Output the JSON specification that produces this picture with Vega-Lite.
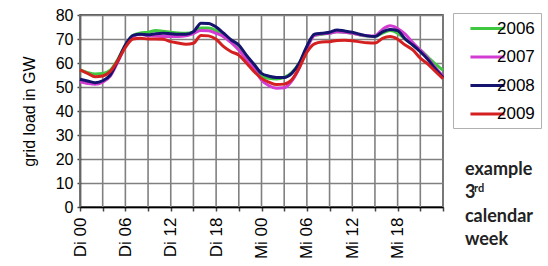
{
  "$schema": "https://vega.github.io/schema/vega-lite/v6.json",
  "width": 363,
  "height": 192,
  "autosize": "none",
  "padding": {"left": 80, "top": 15, "right": 105, "bottom": 59},
  "background": "white",
  "config": {
    "font": "Liberation Sans",
    "view": {"stroke": "#222222", "strokeWidth": 1.5}
  },
  "resolve": {"axis": {"x": "independent", "y": "independent"}},
  "data": {"values": [
    {"h":0,"2006":57.1,"2007":52.2,"2008":53.2,"2009":57.1},
    {"h":1,"2006":56.0,"2007":51.5,"2008":52.5,"2009":55.7},
    {"h":2,"2006":55.4,"2007":51.1,"2008":51.8,"2009":54.3},
    {"h":3,"2006":55.6,"2007":52.0,"2008":52.6,"2009":54.6},
    {"h":4,"2006":57.0,"2007":54.5,"2008":55.0,"2009":56.5},
    {"h":5,"2006":61.5,"2007":60.5,"2008":61.0,"2009":61.0},
    {"h":6,"2006":67.5,"2007":67.0,"2008":67.5,"2009":66.5},
    {"h":7,"2006":71.5,"2007":71.0,"2008":71.5,"2009":70.0},
    {"h":8,"2006":72.5,"2007":72.0,"2008":72.0,"2009":70.3},
    {"h":9,"2006":72.8,"2007":71.4,"2008":71.8,"2009":70.0},
    {"h":10,"2006":73.5,"2007":71.3,"2008":72.2,"2009":70.0},
    {"h":11,"2006":73.2,"2007":71.0,"2008":72.4,"2009":69.9},
    {"h":12,"2006":72.8,"2007":71.0,"2008":72.2,"2009":68.9},
    {"h":13,"2006":72.5,"2007":71.0,"2008":72.0,"2009":68.3},
    {"h":14,"2006":72.4,"2007":71.3,"2008":72.0,"2009":67.8},
    {"h":15,"2006":73.0,"2007":72.3,"2008":73.0,"2009":68.2},
    {"h":16,"2006":74.6,"2007":73.5,"2008":76.6,"2009":71.5},
    {"h":17,"2006":74.6,"2007":73.4,"2008":76.5,"2009":71.3},
    {"h":18,"2006":73.5,"2007":72.4,"2008":75.0,"2009":69.9},
    {"h":19,"2006":71.0,"2007":71.0,"2008":72.4,"2009":66.8},
    {"h":20,"2006":68.9,"2007":68.5,"2008":69.6,"2009":64.7},
    {"h":21,"2006":66.5,"2007":65.4,"2008":67.5,"2009":63.3},
    {"h":22,"2006":62.5,"2007":61.5,"2008":63.3,"2009":60.0},
    {"h":23,"2006":58.5,"2007":57.8,"2008":59.5,"2009":56.5},
    {"h":24,"2006":54.6,"2007":52.9,"2008":55.7,"2009":53.6},
    {"h":25,"2006":53.6,"2007":50.5,"2008":54.5,"2009":52.0},
    {"h":26,"2006":53.3,"2007":49.5,"2008":54.0,"2009":51.0},
    {"h":27,"2006":54.0,"2007":49.7,"2008":54.0,"2009":51.2},
    {"h":28,"2006":56.0,"2007":52.5,"2008":55.7,"2009":53.0},
    {"h":29,"2006":60.0,"2007":58.0,"2008":60.0,"2009":58.0},
    {"h":30,"2006":66.5,"2007":66.0,"2008":67.0,"2009":64.5},
    {"h":31,"2006":71.5,"2007":71.5,"2008":72.0,"2009":68.0},
    {"h":32,"2006":72.0,"2007":72.2,"2008":72.4,"2009":68.8},
    {"h":33,"2006":72.4,"2007":72.4,"2008":72.8,"2009":68.9},
    {"h":34,"2006":73.0,"2007":73.0,"2008":73.8,"2009":69.4},
    {"h":35,"2006":72.8,"2007":72.8,"2008":73.3,"2009":69.5},
    {"h":36,"2006":72.4,"2007":72.4,"2008":72.8,"2009":69.3},
    {"h":37,"2006":71.7,"2007":71.8,"2008":72.0,"2009":68.8},
    {"h":38,"2006":71.2,"2007":71.4,"2008":71.3,"2009":68.4},
    {"h":39,"2006":71.0,"2007":71.3,"2008":71.0,"2009":68.3},
    {"h":40,"2006":72.5,"2007":74.0,"2008":73.0,"2009":70.3},
    {"h":41,"2006":73.5,"2007":75.5,"2008":74.0,"2009":71.0},
    {"h":42,"2006":72.4,"2007":74.4,"2008":73.5,"2009":69.9},
    {"h":43,"2006":70.0,"2007":72.0,"2008":70.0,"2009":67.5},
    {"h":44,"2006":67.5,"2007":68.5,"2008":67.5,"2009":65.5},
    {"h":45,"2006":65.4,"2007":65.4,"2008":64.7,"2009":62.0},
    {"h":46,"2006":62.5,"2007":62.0,"2008":61.5,"2009":59.5},
    {"h":47,"2006":59.5,"2007":58.0,"2008":57.5,"2009":56.5},
    {"h":48,"2006":57.0,"2007":54.5,"2008":54.0,"2009":53.5}
  ]},
  "layer": [
    {
      "transform": [{"filter": "datum.h % 3 == 0"}],
      "mark": {"type": "rule", "color": "#808080", "strokeWidth": 1.6, "opacity": 1},
      "encoding": {
        "x": {"field": "h", "type": "quantitative", "scale": {"domain": [0, 48], "nice": false, "zero": false}, "axis": null},
        "y": {"datum": 0, "scale": {"domain": [0, 80], "nice": false}, "axis": null},
        "y2": {"datum": 80}
      }
    },
    {
      "transform": [{"fold": ["2006", "2007", "2008", "2009"], "as": ["year", "load"]}],
      "mark": {"type": "line", "strokeWidth": 3, "interpolate": "monotone"},
      "encoding": {
        "x": {
          "field": "h", "type": "quantitative",
          "scale": {"domain": [0, 48], "nice": false, "zero": false},
          "axis": {
            "values": [0, 3, 6, 9, 12, 15, 18, 21, 24, 27, 30, 33, 36, 39, 42, 45, 48],
            "labelExpr": "datum.value % 6 == 0 && datum.value < 48 ? (datum.value < 24 ? 'Di ' : 'Mi ') + (datum.value % 24 < 10 ? '0' : '') + (datum.value % 24) : ''",
            "labelAngle": 270, "labelFontSize": 17, "labelColor": "#000000",
            "labelPadding": 6, "labelDy": 3, "labelOverlap": false, "labelFlush": false,
            "title": null,
            "grid": false,
            "domainColor": "#000000", "domainWidth": 1.5,
            "tickColor": "#444444", "tickSize": 4, "tickWidth": 1.5
          }
        },
        "y": {
          "field": "load", "type": "quantitative",
          "scale": {"domain": [0, 80], "nice": false},
          "axis": {
            "values": [0, 10, 20, 30, 40, 50, 60, 70, 80],
            "labelOverlap": false,
            "title": "grid load in GW", "titleFontSize": 16, "titleFontWeight": "normal",
            "titleColor": "#000000", "titlePadding": 18,
            "labelFontSize": 16, "labelColor": "#000000", "labelPadding": 4,
            "grid": true, "gridColor": "#808080", "gridWidth": 1.6,
            "domainColor": "#000000", "domainWidth": 1.5,
            "tickColor": "#444444", "tickSize": 3, "tickWidth": 1.5
          }
        },
        "color": {
          "field": "year", "type": "nominal",
          "scale": {"domain": ["2006", "2007", "2008", "2009"], "range": ["#3fc83f", "#d23cd2", "#14146e", "#d42020"]},
          "legend": {
            "title": null, "orient": "none", "legendX": 373, "legendY": -2,
            "symbolType": "M-2.2,0H2.2", "symbolSize": 240, "symbolStrokeWidth": 3,
            "symbolOffset": 19,
            "labelFontSize": 17, "labelColor": "#000000", "labelOffset": 0,
            "strokeColor": "#b0b0b0", "padding": 6, "rowPadding": 10.5
          }
        }
      }
    },
    {
      "data": {"values": [{}]},
      "mark": {"type": "text", "text": ["example", "3", "calendar", "week"], "font": "Lato", "fontWeight": "bold", "fontSize": 18, "lineHeight": 23.3, "align": "left", "baseline": "alphabetic", "color": "#222222"},
      "encoding": {"x": {"datum": 50.9, "axis": null}, "y": {"datum": 13.33, "axis": null}}
    },
    {
      "data": {"values": [{}]},
      "mark": {"type": "text", "text": "rd", "font": "Lato", "fontWeight": "bold", "fontSize": 11, "align": "left", "baseline": "alphabetic", "color": "#222222"},
      "encoding": {"x": {"datum": 52.1, "axis": null}, "y": {"datum": 6.25, "axis": null}}
    }
  ]
}
